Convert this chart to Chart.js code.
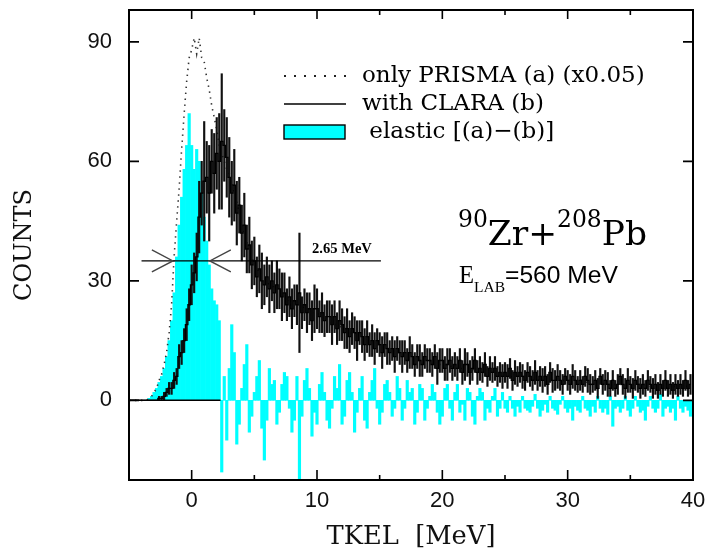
<!DOCTYPE html>
<html>
<head>
<meta charset="utf-8">
<script src="https://cdn.jsdelivr.net/npm/chart.js@4.4.1/dist/chart.umd.min.js"></script>
<style>
  html, body { margin: 0; padding: 0; background: #fff; }
</style>
</head>
<body>
<canvas id="tkelChart" width="708" height="552"></canvas>
<script>
// TKEL spectrum, 0.2 MeV bins starting at -5 MeV
const binStart = -5;
const binWidth = 0.2;

// only PRISMA (a), already scaled x0.05  (one row = 2 MeV)
const prismaCounts = [
  0, 0, 0, 0, 0, 0, 0, 0, 0.5, 1,
  2, 3, 5, 6.5, 9, 12, 17, 24, 36, 45,
  53, 63, 72, 80, 86, 88, 91, 87, 91, 86,
  85, 81, 78, 74, 71, 68, 64, 62, 60, 58,
  57, 55, 52, 50, 47, 44, 42, 40, 37, 36,
  34, 33, 32, 31, 30, 30, 29, 29, 28, 28,
  27, 27, 26, 26, 25, 25, 25, 24, 24, 24,
  23, 23, 23, 22, 22, 22, 21, 21, 21, 20,
  20, 20, 19, 19, 19, 18, 18, 18, 17, 17,
  17, 16, 16, 16, 15, 15, 15, 15, 14, 14,
  14, 13, 13, 13, 13, 12, 12, 12, 12, 11,
  11, 11, 11, 11, 10, 10, 10, 10, 10, 10,
  10, 9, 9, 9, 9, 9, 9, 9, 9, 8,
  8, 8, 8, 8, 8, 8, 8, 8, 7, 7,
  7, 7, 7, 7, 7, 7, 7, 7, 6, 6,
  6, 6, 6, 6, 6, 6, 6, 6, 6, 6,
  6, 5, 5, 5, 5, 5, 5, 5, 5, 5,
  5, 5, 5, 5, 5, 5, 5, 5, 5, 5,
  5, 5, 5, 4, 4, 4, 4, 4, 4, 4,
  4, 4, 4, 4, 4, 4, 4, 4, 4, 4,
  4, 4, 4, 4, 4, 4, 4, 4, 3.5, 3.5,
  3.5, 3.5, 3.5, 3.5, 3.5, 3.5, 3.5, 3.5, 3.5, 3.5,
  3.5, 3.5, 3.5, 3.5, 3.5
];

// with CLARA (b)
const claraCounts = [
  0, 0, 0, 0, 0, 0, 0, 0, 0, 0,
  0, 0, 0.5, 0.5, 1, 2, 3, 3, 5, 6,
  11, 12, 15, 19, 24, 29, 32, 36, 46, 52,
  55, 56, 52, 60, 57, 62, 60, 65, 64, 61,
  56, 52, 54, 47, 49, 42, 44, 38, 39, 34,
  35, 31, 33, 30, 29, 31, 28, 30, 27, 29,
  28, 26, 27, 24, 26, 23, 25, 24, 27, 22,
  24, 22, 23, 20, 23, 23, 21, 22, 20, 21,
  21, 19, 21, 18, 20, 19, 17, 18, 16, 18,
  17, 15, 17, 16, 14, 16, 14, 15, 13, 15,
  14, 12, 14, 13, 12, 13, 11, 13, 12, 11,
  12, 10, 12, 11, 9, 11, 10, 9, 11, 10,
  10, 9, 11, 8, 10, 10, 8, 9, 10, 8,
  9, 8, 10, 7, 9, 9, 7, 8, 10, 7,
  8, 7, 9, 6, 8, 7, 8, 6, 7, 6,
  7, 6, 8, 5, 7, 6, 7, 6, 5, 7,
  6, 5, 7, 5, 6, 5, 6, 4, 7, 5,
  5, 6, 5, 4, 6, 5, 4, 6, 5, 4,
  5, 4, 6, 5, 4, 4, 5, 3, 6, 4,
  5, 4, 3, 5, 3, 4, 6, 4, 3, 5,
  4, 3, 5, 4, 3, 4, 3, 5, 4, 3,
  4, 2.5, 4, 3, 5, 3, 4, 2.5, 4, 3,
  4, 3, 5, 3, 4
];

// error bar half-heights for (b)
const claraErr = [
  0, 0, 0, 0, 0, 0, 0, 0, 0, 0,
  0, 0, 0.5, 0.5, 1, 1, 1.5, 1.5, 2, 2,
  3, 3, 3, 4, 4, 5, 5, 6, 9, 8,
  15, 9, 12, 8, 10, 9, 12, 17, 9, 10,
  10, 8, 9, 8, 7, 7, 8, 6, 7, 6,
  6, 5, 6, 7, 5, 5, 6, 5, 5, 6,
  5, 6, 5, 4, 5, 5, 4, 5, 15, 4,
  4, 5, 4, 5, 6, 5, 4, 5, 4, 4,
  4, 5, 4, 4, 5, 4, 4, 5, 4, 4,
  4, 5, 3, 4, 4, 4, 3, 4, 4, 3,
  3, 4, 3, 4, 3, 3, 4, 3, 3, 4,
  3, 3, 4, 3, 3, 3, 4, 3, 3, 3,
  3, 3, 3, 4, 3, 3, 3, 4, 3, 3,
  3, 3, 3, 3, 4, 3, 3, 3, 3, 3,
  3, 2.5, 3, 2.5, 3, 2.5, 3, 2.5, 2.5, 3,
  2.5, 3, 2.5, 2.5, 3, 2.5, 2.5, 3, 2.5, 2.5,
  2.5, 2.5, 3, 2.5, 2.5, 3, 2.5, 2.5, 2.5, 3,
  2.5, 3, 2.5, 2.5, 2, 2.5, 2.5, 3, 2.5, 2,
  2.5, 2, 2.5, 3, 2.5, 2, 2.5, 2.5, 2, 2.5,
  2.5, 3, 2, 2.5, 2, 2.5, 2, 2.5, 2.5, 3,
  2, 2.5, 2.5, 2, 2.5, 2.5, 2, 2.5, 2, 2.5,
  2.5, 2, 2.5, 2, 2.5, 2, 2.5, 2, 2.5, 2,
  2.5, 2, 2.5, 2, 2.5
];

// elastic [(a)-(b)]
const elasticCounts = [
  0, 0, 0, 0, 0, 0, 0, 0, 0.5, 1,
  2, 3, 4.5, 6, 8, 11, 15, 20, 27, 36,
  44, 51, 58, 64, 72, 64, 58, 63, 60, 52,
  46, 40, 34, 28, 25, 24, 20, -18, 6, -10,
  8, 19, 12, -11, -6, 3, 9, 14, -8, -4,
  2, 6, 10, -7, -15, -5, 8, 4, 5, -6,
  -3, 4, 7, 6, -2, -8, -5, 6, -20, -4,
  5, 8, 3, -9, -3, -6, 4, 7, 2, -5,
  -7, -2, 6, 3, 9, -6, -4, 5, 7, 2,
  -8, -3, 3, 6, -5, -7, 2, 5, 8, -2,
  -6, -3, 4, 5, 2, -4, -2, 6, 3, -5,
  -2, 5, 2, 3, -6, -3, 4, 3, -5, -2,
  1, 4, 2, -3, -6, -4, 3, 4, -2, -5,
  2, 4, -3, -1, -5, 3, 2, -4, -6, 1,
  3, 2, -5, -2, -3, 1, 3, -4, -2, 2,
  -2, -3, 1, -2, -4, -1.5, -3, 1, -2, -2.5,
  -3, -1.5, 1.5, -2, -4, -2.5, -1, -3, 1, -2,
  -2.5, -3.5, -1, 1, -2, -3, -2, -5, -1.5, -2.5,
  -3, 1, -2, -2.5, -4, -1.5, -3, 1, -2, -3,
  -2, -3.5, 1, -6.5, -2, -1.5, -3, -2, 1, -2.5,
  -4, -2, 1, -1.5, -3, -2.5, -5, -1.5, 1, -2,
  -3, -2, 1.5, -4, -2, -1.5, -3, -2, -5, 1,
  -2, -3, -1.5, -2.5, -4
];

// axis ticks
const xMajorTicks = [0, 10, 20, 30, 40];
const xMinorTicks = [5, 15, 25, 35];
const yTicks = [0, 30, 60, 90];

// FWHM marker (MeV) and the zero line under the elastic peak
const fwhmLevel = 35;
const fwhmLineX = [-4, 15.1];
const fwhmEdges = [-1.5, 1.45];
const zeroLineX = [-5, 2.3];

[prismaCounts, claraCounts, claraErr, elasticCounts].forEach(arr => {
  if (arr.length !== 225) throw new Error('bad array length ' + arr.length);
});

const tkel = prismaCounts.map((_, i) => +(binStart + i * binWidth).toFixed(1));

const serif = '"DejaVu Serif", "Liberation Serif", serif';
const times = '"Liberation Serif", serif';
const sans = '"Liberation Sans", Arial, sans-serif';

// pick a font size so the text spans a given width
const mctx = document.createElement('canvas').getContext('2d');
function fitSize(text, width, family, weight) {
  mctx.font = (weight || 'normal') + ' 100px ' + family;
  return 100 * width / mctx.measureText(text).width;
}

const yTitleSize = fitSize('COUNTS', 112, serif);
const xTitleSize = fitSize('TKEL  [MeV]', 169, serif);
const legendSize = fitSize('only PRISMA (a) (x0.05)', 283, serif);

const decor = {
  id: 'decor',
  afterDatasetsDraw(chart) {
    const {ctx, chartArea: a, scales: {x, y}} = chart;
    ctx.save();

    // FWHM arrows
    const yl = y.getPixelForValue(fwhmLevel);
    ctx.strokeStyle = '#444';
    ctx.lineWidth = 1.4;
    ctx.beginPath();
    let px = x.getPixelForValue(fwhmEdges[0]);
    ctx.moveTo(px - 21, yl - 11); ctx.lineTo(px, yl); ctx.lineTo(px - 21, yl + 11);
    px = x.getPixelForValue(fwhmEdges[1]);
    ctx.moveTo(px + 21, yl - 11); ctx.lineTo(px, yl); ctx.lineTo(px + 21, yl + 11);
    ctx.stroke();

    // frame and inward ticks
    ctx.strokeStyle = '#000';
    ctx.lineWidth = 2;
    ctx.strokeRect(a.left, a.top, a.right - a.left, a.bottom - a.top);
    ctx.lineWidth = 1.6;
    ctx.beginPath();
    xMajorTicks.forEach(v => {
      const p = x.getPixelForValue(v);
      ctx.moveTo(p, a.bottom); ctx.lineTo(p, a.bottom - 10);
      ctx.moveTo(p, a.top); ctx.lineTo(p, a.top + 9);
    });
    xMinorTicks.forEach(v => {
      const p = x.getPixelForValue(v);
      ctx.moveTo(p, a.bottom); ctx.lineTo(p, a.bottom - 5);
      ctx.moveTo(p, a.top); ctx.lineTo(p, a.top + 5);
    });
    yTicks.forEach(v => {
      const p = y.getPixelForValue(v);
      ctx.moveTo(a.left, p); ctx.lineTo(a.left + 10, p);
      ctx.moveTo(a.right, p); ctx.lineTo(a.right - 10, p);
    });
    ctx.stroke();

    // FWHM label
    ctx.fillStyle = '#000';
    ctx.textBaseline = 'alphabetic';
    ctx.font = 'bold ' + fitSize('2.65 MeV', 60, times, 'bold') + 'px ' + times;
    ctx.fillText('2.65 MeV', x.getPixelForValue(9.6), y.getPixelForValue(fwhmLevel) - 8);

    // legend
    ctx.strokeStyle = '#222';
    ctx.lineWidth = 2;
    ctx.setLineDash([2, 8]);
    ctx.beginPath(); ctx.moveTo(284, 76); ctx.lineTo(346, 76); ctx.stroke();
    ctx.setLineDash([]);
    ctx.strokeStyle = '#000';
    ctx.lineWidth = 1.4;
    ctx.beginPath(); ctx.moveTo(284, 104); ctx.lineTo(346, 104); ctx.stroke();
    ctx.fillStyle = '#00ffff';
    ctx.fillRect(284, 125, 61, 14);
    ctx.strokeRect(284, 125, 61, 14);
    ctx.fillStyle = '#000';
    ctx.font = legendSize + 'px ' + serif;
    ctx.fillText('only PRISMA (a) (x0.05)', 362, 82);
    ctx.fillText('with CLARA (b)', 362, 110);
    ctx.fillText(' elastic [(a)\u2212(b)]', 362, 138);

    // reaction label
    mctx.font = '100px ' + serif;
    const w100 = 0.68 * (mctx.measureText('90').width + mctx.measureText('208').width) +
      mctx.measureText('Zr+').width + mctx.measureText('Pb').width;
    const big = 100 * 189 / w100, small = big * 0.68;
    let cx = 458;
    [['90', small, 227], ['Zr+', big, 245], ['208', small, 227], ['Pb', big, 245]].forEach(([t, s, b]) => {
      ctx.font = s + 'px ' + serif;
      ctx.fillText(t, cx, b);
      cx += ctx.measureText(t).width;
    });

    // beam energy label
    const es = fitSize('=560 MeV', 113, sans);
    ctx.font = es + 'px ' + times;
    ctx.fillText('E', 459, 283);
    ctx.font = es + 'px ' + sans;
    ctx.fillText('=560 MeV', 505, 283);
    ctx.font = fitSize('LAB', 31, times) + 'px ' + times;
    ctx.fillText('LAB', 474, 292);

    ctx.restore();
  }
};

const config = {
  type: 'bar',
  data: {
    datasets: [
      {
        type: 'line',
        label: 'zero',
        data: zeroLineX.map(v => ({x: v, y: 0})),
        borderColor: '#000',
        borderWidth: 1.5,
        pointRadius: 0,
        order: 1
      },
      {
        type: 'line',
        label: 'FWHM',
        data: fwhmLineX.map(v => ({x: v, y: fwhmLevel})),
        borderColor: '#000',
        borderWidth: 1.3,
        pointRadius: 0,
        order: 1
      },
      {
        type: 'line',
        label: 'with CLARA (b)',
        data: tkel.map((v, i) => ({x: v, y: claraCounts[i]})),
        borderColor: '#000',
        borderWidth: 1.3,
        stepped: 'middle',
        pointRadius: 0,
        order: 2
      },
      {
        label: 'errors (b)',
        data: tkel.map((v, i) => ({x: v, y: [claraCounts[i] - claraErr[i], claraCounts[i] + claraErr[i]]})),
        backgroundColor: '#111',
        barThickness: 1.5,
        grouped: false,
        order: 3
      },
      {
        type: 'line',
        label: 'only PRISMA (a) (x0.05)',
        data: tkel.map((v, i) => ({x: v, y: prismaCounts[i]})),
        borderColor: '#333',
        borderWidth: 1.6,
        borderDash: [1.4, 4.6],
        pointRadius: 0,
        order: 4
      },
      {
        label: 'elastic [(a)-(b)]',
        data: tkel.map((v, i) => ({x: v, y: elasticCounts[i]})),
        backgroundColor: '#00ffff',
        barPercentage: 1,
        categoryPercentage: 1,
        grouped: false,
        order: 5
      }
    ]
  },
  options: {
    responsive: false,
    animation: false,
    events: [],
    layout: { padding: { top: 10, right: 15, left: 0, bottom: 0 } },
    plugins: {
      legend: { display: false },
      tooltip: { enabled: false }
    },
    scales: {
      x: {
        type: 'linear',
        min: -5,
        max: 40,
        offset: false,
        grid: { display: false, drawTicks: false },
        border: { display: false },
        afterBuildTicks: s => { s.ticks = xMajorTicks.map(v => ({value: v})); },
        afterFit: s => { s.height = 72; s.paddingLeft = 0; s.paddingRight = 0; },
        ticks: { color: '#111', font: { family: sans, size: 22 }, padding: 8, maxRotation: 0, autoSkip: false },
        title: {
          display: true,
          text: 'TKEL  [MeV]',
          color: '#111',
          font: { family: serif, size: xTitleSize, lineHeight: 1 },
          padding: { top: 0, bottom: 15 - xTitleSize / 2 }
        }
      },
      y: {
        min: -20,
        max: 98,
        grid: { display: false, drawTicks: false },
        border: { display: false },
        afterBuildTicks: s => { s.ticks = yTicks.map(v => ({value: v})); },
        afterFit: s => { s.width = 129; s.paddingTop = 0; s.paddingBottom = 0; },
        ticks: { color: '#111', font: { family: sans, size: 22 }, padding: 17 },
        title: {
          display: true,
          text: 'COUNTS',
          color: '#111',
          font: { family: serif, size: yTitleSize, lineHeight: 1 },
          padding: { top: 25 - yTitleSize / 2, bottom: 0 }
        }
      }
    }
  },
  plugins: [decor]
};

const tkelChart = new Chart(document.getElementById('tkelChart'), config);
</script>
</body>
</html>
